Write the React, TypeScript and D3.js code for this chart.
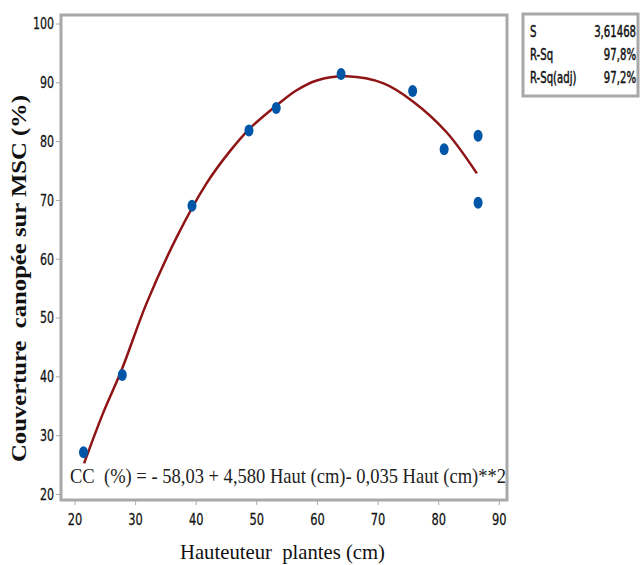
import React, { useEffect, useRef } from 'react'
import * as d3 from 'd3'

// observed points: plant height (cm) vs canopy cover (%)
const hauteur = [21.4, 27.8, 39.3, 48.7, 53.2, 63.9, 75.7, 80.9, 86.5, 86.5]
const couverture = [27.2, 40.3, 69.1, 81.9, 85.7, 91.5, 88.6, 78.7, 81.0, 69.6]

// fitted line
const fitX = [21.5, 24.5, 27.7, 31.8, 36.8, 41.7, 45.5, 48.9, 53.3, 56.5, 59.9, 64.8, 70.9, 75.8, 81.3, 86.3]
const fitY = [25.3, 33.5, 41.2, 52.5, 63.8, 72.9, 78.3, 82.3, 86.2, 88.7, 90.4, 91.1, 89.9, 86.8, 81.6, 74.6]

const xTicks = [20, 30, 40, 50, 60, 70, 80, 90]
const yTicks = [20, 30, 40, 50, 60, 70, 80, 90, 100]

const statLabels = ['S', 'R-Sq', 'R-Sq(adj)']
const statValues = ['3,61468', '97,8%', '97,2%']

const equation = 'CC  (%) = - 58,03 + 4,580 Haut (cm)- 0,035 Haut (cm)**2'
const xTitle = 'Hauteuteur  plantes (cm)'
const yTitle = 'Couverture  canopée sur MSC (%)'

const W = 640
const H = 565
const narrow = "'DejaVu Sans Condensed', 'Liberation Sans', Arial, sans-serif"
const serif = "'Liberation Serif', 'Times New Roman', serif"

export default function App() {
  const ref = useRef<SVGSVGElement | null>(null)

  useEffect(() => {
    const svg = d3.select(ref.current)
    svg.selectAll('*').remove()

    const x = d3.scaleLinear().domain([20, 90]).range([75, 499.3])
    const y = d3.scaleLinear().domain([20, 100]).range([494.5, 24])

    // frame
    svg
      .append('rect')
      .attr('x', 61)
      .attr('y', 15)
      .attr('width', 446)
      .attr('height', 485)
      .attr('fill', 'white')
      .attr('stroke', '#a8a8a8')
      .attr('stroke-width', 3)

    // y ticks
    const yg = svg.append('g')
    yg.selectAll('line')
      .data(yTicks)
      .enter()
      .append('line')
      .attr('x1', 56)
      .attr('x2', 60)
      .attr('y1', d => y(d))
      .attr('y2', d => y(d))
      .attr('stroke', '#a8a8a8')
      .attr('stroke-width', 1)
    yg.selectAll('text')
      .data(yTicks)
      .enter()
      .append('text')
      .text(d => d)
      .attr('transform', d => `translate(54,${y(d)}) scale(0.82,1)`)
      .attr('dy', '0.36em')
      .attr('text-anchor', 'end')
      .attr('font-family', narrow)
      .attr('font-size', 15)
      .attr('fill', '#111')
      .attr('stroke', '#111')
      .attr('stroke-width', 0.25)

    // x ticks
    const xg = svg.append('g')
    xg.selectAll('line')
      .data(xTicks)
      .enter()
      .append('line')
      .attr('x1', d => x(d))
      .attr('x2', d => x(d))
      .attr('y1', 501)
      .attr('y2', 505)
      .attr('stroke', '#a8a8a8')
      .attr('stroke-width', 1)
    xg.selectAll('text')
      .data(xTicks)
      .enter()
      .append('text')
      .text(d => d)
      .attr('transform', d => `translate(${x(d)},525) scale(0.82,1)`)
      .attr('text-anchor', 'middle')
      .attr('font-family', narrow)
      .attr('font-size', 15.5)
      .attr('fill', '#111')
      .attr('stroke', '#111')
      .attr('stroke-width', 0.25)

    // fitted curve
    const line = d3
      .line<number>()
      .x((d, i) => x(fitX[i]))
      .y(d => y(d))
      .curve(d3.curveCatmullRom.alpha(0.5))
    svg
      .append('path')
      .datum(fitY)
      .attr('d', line)
      .attr('fill', 'none')
      .attr('stroke', '#8e1416')
      .attr('stroke-width', 2.5)

    // points
    svg
      .selectAll('ellipse')
      .data(hauteur)
      .enter()
      .append('ellipse')
      .attr('cx', d => x(d))
      .attr('cy', (d, i) => y(couverture[i]))
      .attr('rx', 4.5)
      .attr('ry', 6)
      .attr('fill', '#0056a6')

    // equation
    svg
      .append('text')
      .text(equation)
      .attr('x', 70)
      .attr('y', 483)
      .attr('font-family', serif)
      .attr('font-size', 22)
      .attr('textLength', 436)
      .attr('lengthAdjust', 'spacingAndGlyphs')
      .style('white-space', 'pre')
      .attr('fill', '#222')

    // axis titles
    svg
      .append('text')
      .text(xTitle)
      .attr('x', 180)
      .attr('y', 559)
      .attr('font-family', serif)
      .attr('font-size', 22)
      .attr('textLength', 205)
      .attr('lengthAdjust', 'spacingAndGlyphs')
      .style('white-space', 'pre')
      .attr('fill', '#111')
    svg
      .append('text')
      .text(yTitle)
      .attr('transform', 'translate(26,462) rotate(-90)')
      .attr('font-family', serif)
      .attr('font-weight', 'bold')
      .attr('font-size', 20)
      .attr('textLength', 367)
      .attr('lengthAdjust', 'spacingAndGlyphs')
      .style('white-space', 'pre')
      .attr('fill', '#111')

    // stats box
    svg
      .append('rect')
      .attr('x', 523)
      .attr('y', 14)
      .attr('width', 115)
      .attr('height', 82)
      .attr('fill', 'white')
      .attr('stroke', '#a8a8a8')
      .attr('stroke-width', 3)
    const sg = svg.append('g')
    sg.selectAll('text.lab')
      .data(statLabels)
      .enter()
      .append('text')
      .attr('class', 'lab')
      .text(d => d)
      .attr('transform', (d, i) => `translate(530,${37 + i * 23}) scale(0.75,1)`)
      .attr('font-family', narrow)
      .attr('font-size', 15)
      .attr('fill', '#111')
      .attr('stroke', '#111')
      .attr('stroke-width', 0.45)
    sg.selectAll('text.val')
      .data(statValues)
      .enter()
      .append('text')
      .attr('class', 'val')
      .text(d => d)
      .attr('transform', (d, i) => `translate(636,${37 + i * 23}) scale(0.75,1)`)
      .attr('text-anchor', 'end')
      .attr('font-family', narrow)
      .attr('font-size', 15)
      .attr('fill', '#111')
      .attr('stroke', '#111')
      .attr('stroke-width', 0.45)
  }, [])

  return (
    <svg
      ref={ref}
      width={W}
      height={H}
      style={{ position: 'absolute', left: 0, top: 0, background: 'white' }}
    />
  )
}
